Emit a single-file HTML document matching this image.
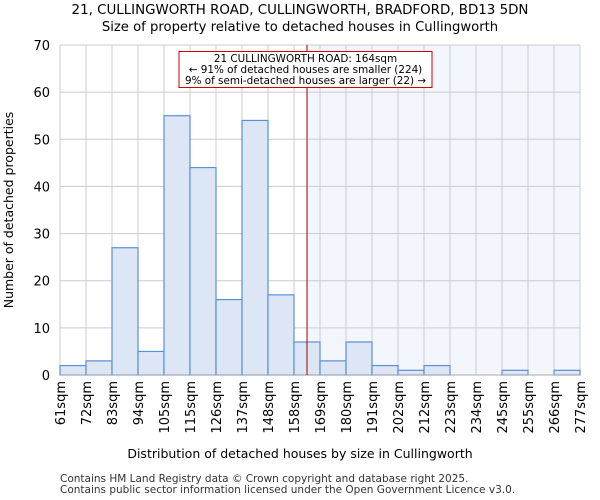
<!DOCTYPE html>
<html><head><meta charset="utf-8"><style>
body{margin:0;background:#fff}
svg{display:block;font-family:"DejaVu Sans","Liberation Sans",sans-serif}
</style></head><body>
<svg id="chart" width="600" height="500" xmlns="http://www.w3.org/2000/svg">
<text x="300" y="14" text-anchor="middle" font-size="13.4">21, CULLINGWORTH ROAD, CULLINGWORTH, BRADFORD, BD13 5DN</text>
<text x="300" y="31" text-anchor="middle" font-size="13.2">Size of property relative to detached houses in Cullingworth</text>
<g id="plot"></g>
<text x="300" y="458" text-anchor="middle" font-size="12.5">Distribution of detached houses by size in Cullingworth</text>
<text transform="translate(13,210) rotate(-90)" text-anchor="middle" font-size="12.5">Number of detached properties</text>
<text x="60" y="482" font-size="10.5" fill="#333">Contains HM Land Registry data © Crown copyright and database right 2025.</text>
<text x="60" y="493" font-size="10.5" fill="#333">Contains public sector information licensed under the Open Government Licence v3.0.</text>
</svg>
<script>
const binLabels=["61sqm","72sqm","83sqm","94sqm","105sqm","115sqm","126sqm","137sqm","148sqm","158sqm","169sqm","180sqm","191sqm","202sqm","212sqm","223sqm","234sqm","245sqm","255sqm","266sqm","277sqm"];
const counts=[2,3,27,5,55,44,16,54,17,7,3,7,2,1,2,0,0,1,0,1];
const yTicks=[0,10,20,30,40,50,60,70];
const propertyBin=9.5;
const NS="http://www.w3.org/2000/svg";
const g=document.getElementById('plot');
const L=60,R=580,T=45,B=375,yMax=70;
const n=counts.length,bw=(R-L)/n;
const x=i=>L+i*bw;
const y=v=>B-v/yMax*(B-T);
function mk(tag,a){const e=document.createElementNS(NS,tag);for(const k in a)e.setAttribute(k,a[k]);g.appendChild(e);return e;}
const px=x(propertyBin);
let e=mk('rect',{x:px,y:T,width:R-px,height:B-T,fill:'#f3f6fd'});


for(let i=0;i<=n;i++){e=mk('line',{x1:x(i),x2:x(i),y1:T,y2:B,stroke:'#ccc','stroke-width':1});

}
yTicks.forEach(t=>{e=mk('line',{x1:L,x2:R,y1:y(t),y2:y(t),stroke:'#ccc','stroke-width':1});


e=mk('text',{x:L-10,y:y(t)+5,'text-anchor':'end','font-size':13});e.textContent=t;

});
counts.forEach((c,i)=>{if(c<=0)return;e=mk('rect',{x:x(i),y:y(c),width:bw,height:B-y(c),fill:'#dce6f4',stroke:'#5b8fd6','stroke-width':1.2});

});
binLabels.forEach((l,i)=>{e=mk('text',{transform:`translate(${x(i)+5},381) rotate(-90)`,'text-anchor':'end','font-size':13});e.textContent=l;

});
e=mk('line',{x1:L,x2:R,y1:B,y2:B,stroke:'#aaa'});


e=mk('line',{x1:px,x2:px,y1:T,y2:B,stroke:'#a00000','stroke-width':1});


e=mk('rect',{x:179,y:51.5,width:253,height:36,fill:'#fff',stroke:'#c00','stroke-width':1});


["21 CULLINGWORTH ROAD: 164sqm","← 91% of detached houses are smaller (224)","9% of semi-detached houses are larger (22) →"].forEach((s,i)=>{
e=mk('text',{x:305.5,y:62+i*11,'text-anchor':'middle','font-size':10.4});e.textContent=s;

});
</script>
</body></html>
